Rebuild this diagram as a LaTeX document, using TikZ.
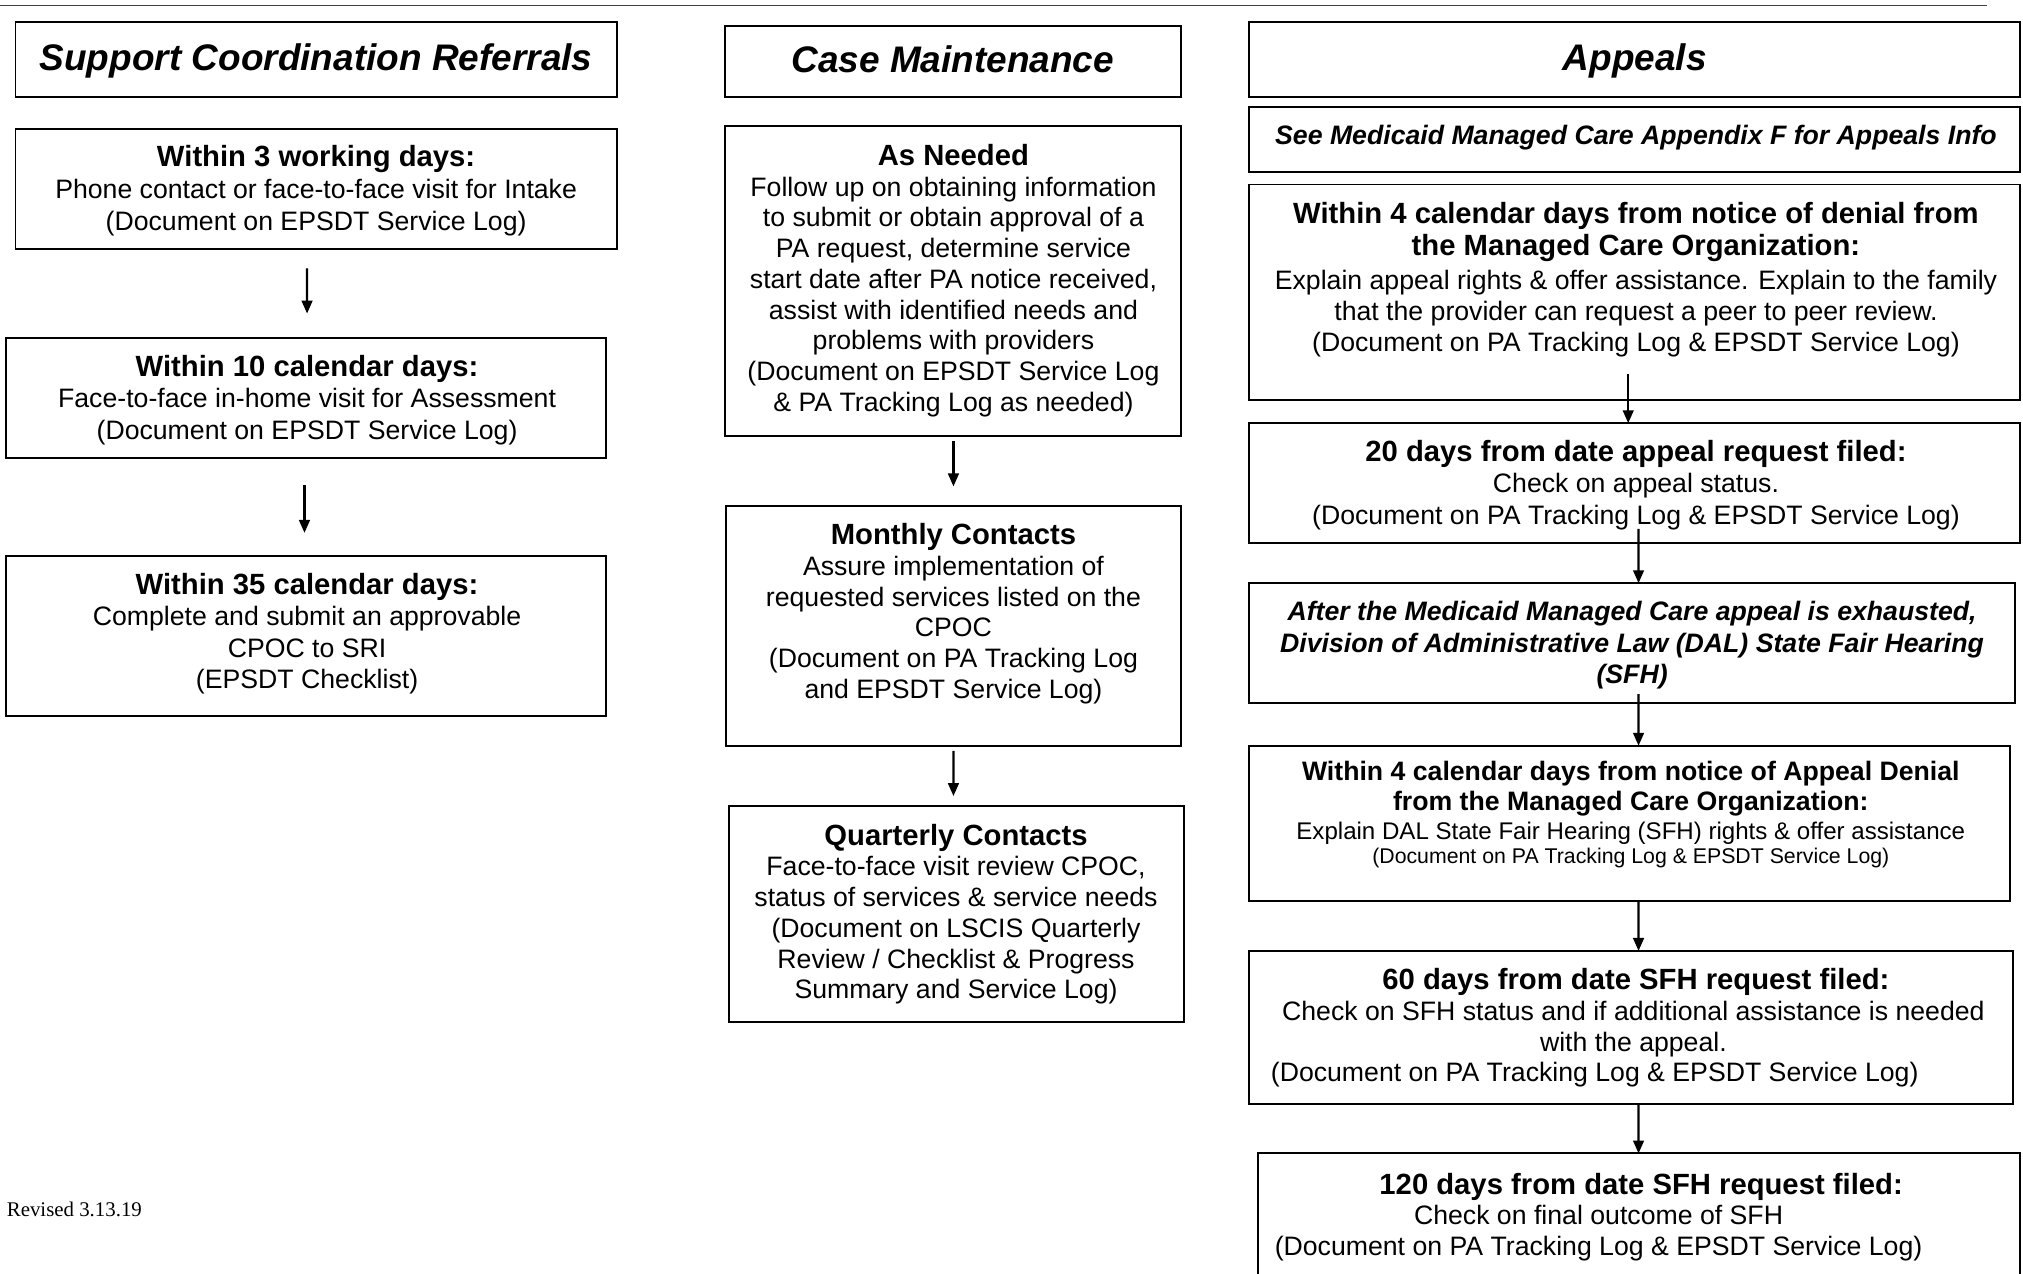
\documentclass[tikz,border=0pt]{standalone}
\usepackage{fontspec}
\setmainfont{Liberation Sans}
\newfontfamily\revfont{Liberation Serif}
\usetikzlibrary{arrows.meta}
\newlength{\gu}
\setlength{\gu}{0.6pt}
\begin{document}
\begin{tikzpicture}[
  x=0.6pt,y=-0.6pt,
  line cap=butt,line join=miter,
  box/.style={draw=black,line width=0.9pt,inner sep=0pt,outer sep=0pt},
  flow/.style={draw=black,line width=1pt,-{Triangle[length=6pt,width=5pt]}},
  heading/.style={font=\bfseries\itshape\fontsize{17.2}{20}\selectfont,anchor=base},
  lead/.style={font=\bfseries\fontsize{13.6}{15}\selectfont,align=center,anchor=base},
  body/.style={font=\fontsize{12.4}{14.6}\selectfont,align=center,anchor=base},
  midbody/.style={body,font=\fontsize{12.4}{14.3}\selectfont},
  slant/.style={font=\bfseries\itshape\fontsize{12.4}{14.7}\selectfont,align=center,anchor=base}
]
\useasboundingbox (0,0) rectangle (1568,987);
\clip (0,0) rectangle (1568,987);

% rule across the top
\draw[black!75,line width=0.6pt] (0,4) -- (1540,4);

% Support coordination column (multi-line texts sit on their last baseline)
\node[box,minimum width=466*\gu,minimum height=58*\gu] (h1) at (245,46) {};
\node[heading] (h1text) at (245,55) {Support Coordination Referrals};

\node[box,minimum width=466*\gu,minimum height=93*\gu] (b1) at (245,146.5) {};
\node[lead] (b1lead) at (245,129) {Within 3 working days:};
\node[body] (b1body) at (245,178.3) {Phone contact or face-to-face visit for Intake\\(Document on EPSDT Service Log)};

\node[box,minimum width=465*\gu,minimum height=93*\gu] (b2) at (237.5,308.5) {};
\node[lead] (b2lead) at (238,292) {Within 10 calendar days:};
\node[body] (b2body) at (238,340.3) {Face-to-face in-home visit for Assessment\\(Document on EPSDT Service Log)};

\node[box,minimum width=465*\gu,minimum height=124*\gu] (b3) at (237.5,493) {};
\node[lead] (b3lead) at (238,461) {Within 35 calendar days:};
\node[body] (b3body) at (238,533.7) {Complete and submit an approvable\\CPOC to SRI\\(EPSDT Checklist)};

\draw[flow] ([xshift=-4.2pt,yshift=-9pt]b1.south) -- ([xshift=0.3pt,yshift=11.4pt]b2.north);
\draw[flow] ([xshift=-0.9pt,yshift=-12.6pt]b2.south) -- ([xshift=-0.9pt,yshift=10.8pt]b3.north);

% Case maintenance column
\node[box,minimum width=353*\gu,minimum height=55*\gu] (h2) at (738.5,47.5) {};
\node[heading] (h2text) at (738.5,56) {Case Maintenance};

\node[box,minimum width=353*\gu,minimum height=240*\gu] (b4) at (738.5,218) {};
\node[lead] (b4lead) at (739,128) {As Needed};
\node[midbody] (b4body) at (739,318.8) {Follow up on obtaining information\\to submit or obtain approval of a\\PA request, determine service\\start date after PA notice received,\\assist with identified needs and\\problems with providers\\(Document on EPSDT Service Log\\\& PA Tracking Log as needed)};

\node[box,minimum width=352*\gu,minimum height=186*\gu] (b5) at (739,485) {};
\node[lead] (b5lead) at (739,422) {Monthly Contacts};
\node[midbody] (b5body) at (739,541.3) {Assure implementation of\\requested services listed on the\\CPOC\\(Document on PA Tracking Log\\and EPSDT Service Log)};

\node[box,minimum width=353*\gu,minimum height=167*\gu] (b6) at (741.5,708.5) {};
\node[lead] (b6lead) at (741,655) {Quarterly Contacts};
\node[midbody] (b6body) at (741,774.3) {Face-to-face visit review CPOC,\\status of services \& service needs\\(Document on LSCIS Quarterly\\Review / Checklist \& Progress\\Summary and Service Log)};

\draw[flow] ([xshift=0.3pt,yshift=-2.4pt]b4.south) -- ([yshift=9pt]b5.north);
\draw[flow] ([yshift=-2.4pt]b5.south) -- ([xshift=-1.5pt,yshift=4.8pt]b6.north);

% Appeals column
\node[box,minimum width=598*\gu,minimum height=58*\gu] (h3) at (1267,46) {};
\node[heading] (h3text) at (1267,55) {Appeals};

\node[box,minimum width=598*\gu,minimum height=50*\gu] (b7) at (1267,108) {};
\node[slant] (b7text) at (1268,112) {See Medicaid Managed Care Appendix F for Appeals Info};

\node[box,minimum width=598*\gu,minimum height=167*\gu] (b8) at (1267,226.5) {};
\node[lead] (b8lead) at (1268,198) {Within 4 calendar days from notice of denial from\\the Managed Care Organization:};
\node[body] (b8body) at (1268,272.7) {Explain appeal rights \& offer assistance. Explain to the family\\that the provider can request a peer to peer review.\\(Document on PA Tracking Log \& EPSDT Service Log)};

\node[box,minimum width=598*\gu,minimum height=93*\gu] (b9) at (1267,374.5) {};
\node[lead] (b9lead) at (1268,358) {20 days from date appeal request filed:};
\node[body] (b9body) at (1268,406.3) {Check on appeal status.\\(Document on PA Tracking Log \& EPSDT Service Log)};

\node[box,minimum width=594*\gu,minimum height=93*\gu] (b10) at (1265,498.5) {};
\node[slant] (b10text) at (1265,530) {After the Medicaid Managed Care appeal is exhausted,\\Division of Administrative Law (DAL) State Fair Hearing\\(SFH)};

\node[box,minimum width=590*\gu,minimum height=120*\gu] (b11) at (1263,638) {};
\node[lead,font=\bfseries\fontsize{12.4}{13.8}\selectfont] (b11lead) at (1264,628) {Within 4 calendar days from notice of Appeal Denial\\from the Managed Care Organization:};
\node[body,font=\fontsize{11.2}{13}\selectfont] (b11body) at (1264,651) {Explain DAL State Fair Hearing (SFH) rights \& offer assistance};
\node[body,font=\fontsize{9.9}{11}\selectfont] (b11note) at (1264,669) {(Document on PA Tracking Log \& EPSDT Service Log)};

\node[box,minimum width=592*\gu,minimum height=119*\gu] (b12) at (1264,796.5) {};
\node[lead] (b12lead) at (1268,767) {60 days from date SFH request filed:};
\node[body] (b12body) at (1266,815.3) {Check on SFH status and if additional assistance is needed\\with the appeal.};
\node[body] (b12note) at (1236,838) {(Document on PA Tracking Log \& EPSDT Service Log)};

\node[box,minimum width=591*\gu,minimum height=116*\gu] (b13) at (1270.5,952) {};
\node[lead] (b13lead) at (1272,926) {120 days from date SFH request filed:};
\node[body] (b13body) at (1239,973.3) {Check on final outcome of SFH\\(Document on PA Tracking Log \& EPSDT Service Log)};

\draw[flow] ([xshift=-3pt,yshift=12pt]b8.south) -- ([xshift=-3pt]b9.north);
\draw[flow] ([xshift=1.8pt,yshift=6.6pt]b9.south) -- ([xshift=3pt]b10.north);
\draw[flow] ([xshift=3pt,yshift=4.2pt]b10.south) -- ([xshift=4.2pt]b11.north);
\draw[flow] ([xshift=4.2pt]b11.south) -- ([xshift=3.6pt]b12.north);
\draw[flow] ([xshift=3.6pt]b12.south) -- ([xshift=-0.3pt]b13.north);

% revision date
\node[anchor=base west,inner sep=0pt,font=\revfont\fontsize{9.7}{11}\selectfont] (revised) at (5,943) {Revised 3.13.19};

\end{tikzpicture}
\end{document}
